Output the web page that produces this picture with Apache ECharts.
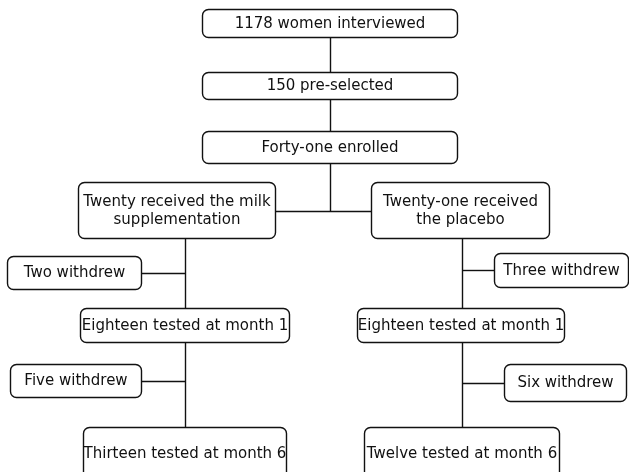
<!DOCTYPE html>
<html>
<head>
<meta charset="utf-8">
<script src="https://cdn.jsdelivr.net/npm/echarts@6/dist/echarts.min.js"></script>
<style>
  html, body { margin: 0; padding: 0; background: #fff; }
  #main { width: 629px; height: 472px; }
</style>
</head>
<body>
<div id="main"></div>
<script>
'use strict';

// box texts
var screeningLabels = ['1178 women interviewed', '150 pre-selected', 'Forty-one enrolled'];
var armLabels = ['Twenty received the milk\nsupplementation', 'Twenty-one received\nthe placebo'];
var withdrawMonth1 = ['Two withdrew', 'Three withdrew'];
var testedMonth1 = ['Eighteen tested at month 1', 'Eighteen tested at month 1'];
var withdrawMonth6 = ['Five withdrew', 'Six withdrew'];
var testedMonth6 = ['Thirteen tested at month 6', 'Twelve tested at month 6'];

// layout: box corners [x0, y0, x1, y1] in page pixels
var screeningBoxes = [[202, 9, 457, 37], [202, 72, 457, 99], [202, 131, 457, 163]];
var armBoxes = [[78, 182, 275, 238], [371, 182, 549, 238]];
var withdraw1Boxes = [[7, 256, 141, 289], [494, 253, 628, 287]];
var month1Boxes = [[80, 308, 289, 342], [357, 308, 564, 342]];
var withdraw6Boxes = [[10, 364, 141, 397], [504, 364, 626, 401]];
var month6Boxes = [[83, 427, 286, 480], [364, 427, 559, 480]];

// connector segments
var connectors = [
    [[330.5, 37], [330.5, 72]],
    [[330.5, 99], [330.5, 131]],
    [[330.5, 163], [330.5, 211.5]],
    [[275, 211.5], [371, 211.5]],
    [[185.5, 238], [185.5, 308]],
    [[185.5, 342], [185.5, 427]],
    [[462.5, 238], [462.5, 308]],
    [[462.5, 342], [462.5, 427]],
    [[141, 273.5], [185.5, 273.5]],
    [[462.5, 270.5], [494, 270.5]],
    [[141, 381.5], [185.5, 381.5]],
    [[462.5, 383.5], [504, 383.5]]
];

var boxData = [];
function addBoxes(labels, boxes) {
    for (var i = 0; i < labels.length; i++) {
        var b = boxes[i];
        boxData.push({ value: [b[0], b[1], b[2], b[3]], label: labels[i] });
    }
}
addBoxes(screeningLabels, screeningBoxes);
addBoxes(armLabels, armBoxes);
addBoxes(withdrawMonth1, withdraw1Boxes);
addBoxes(testedMonth1, month1Boxes);
addBoxes(withdrawMonth6, withdraw6Boxes);
addBoxes(testedMonth6, month6Boxes);

var chart = echarts.init(document.getElementById('main'));

var option = {
    backgroundColor: '#fff',
    animation: false,
    grid: { left: 0, top: 0, right: 0, bottom: 0 },
    xAxis: { type: 'value', min: 0, max: 629, show: false },
    yAxis: { type: 'value', min: 0, max: 472, inverse: true, show: false },
    series: [
        {
            type: 'lines',
            coordinateSystem: 'cartesian2d',
            polyline: false,
            silent: true,
            lineStyle: { color: '#111', width: 1.4, opacity: 1 },
            data: connectors.map(function (c) { return { coords: c }; })
        },
        {
            type: 'custom',
            coordinateSystem: 'cartesian2d',
            silent: true,
            clip: false,
            z: 5,
            data: boxData,
            renderItem: function (params, api) {
                var p0 = api.coord([api.value(0), api.value(1)]);
                var p1 = api.coord([api.value(2), api.value(3)]);
                var item = boxData[params.dataIndex];
                return {
                    type: 'group',
                    children: [
                        {
                            type: 'rect',
                            shape: {
                                x: p0[0] + 0.5, y: p0[1] + 0.5,
                                width: p1[0] - p0[0], height: p1[1] - p0[1], r: 6
                            },
                            style: { fill: '#fff', stroke: '#111', lineWidth: 1.4 }
                        },
                        {
                            type: 'text',
                            style: {
                                text: item.label,
                                x: (p0[0] + p1[0]) / 2 + 0.5,
                                y: (Math.min(p1[1], 480) + p0[1]) / 2 + 1,
                                align: 'center',
                                verticalAlign: 'middle',
                                fill: '#111',
                                font: '15px "DejaVu Sans"',
                                lineHeight: 18
                            }
                        }
                    ]
                };
            }
        }
    ]
};

chart.setOption(option);
</script>
</body>
</html>
